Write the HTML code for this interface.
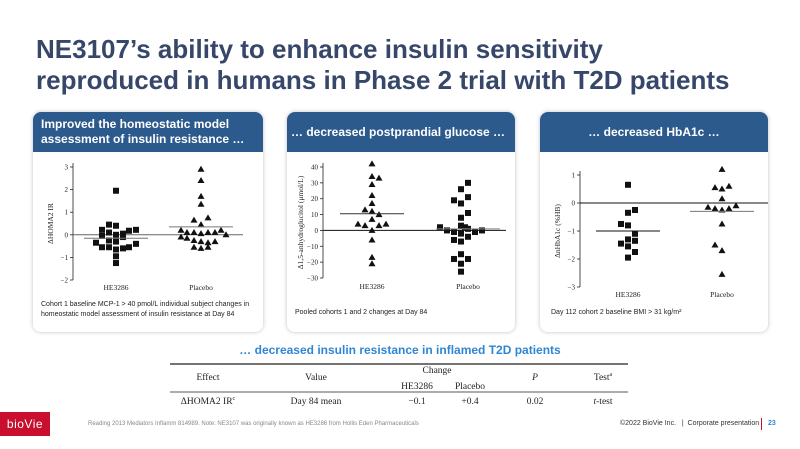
<!DOCTYPE html>
<html><head><meta charset="utf-8">
<style>
body{margin:0;width:800px;height:449px;background:#fff;position:relative;overflow:hidden;font-family:"Liberation Sans",sans-serif;}
.title{position:absolute;left:36px;top:34px;font-size:26px;font-weight:bold;color:#37476a;line-height:31px;white-space:nowrap;}
.card{position:absolute;top:112px;height:220px;background:#fff;border-radius:8px;box-shadow:0 0 4px rgba(0,0,0,0.25);overflow:hidden;}
.hdr{background:#2c5a8c;color:#fff;font-weight:bold;font-size:12px;height:40px;display:flex;align-items:center;padding:0 8px;line-height:15px;white-space:nowrap;}
.hdr.wrap{white-space:normal;}
.cap{position:absolute;font-size:7px;color:#222;line-height:10px;}
svg text{font-family:"Liberation Serif",serif;}
.sub{position:absolute;left:0;width:800px;text-align:center;top:343px;font-size:12px;font-weight:bold;color:#2f86d2;}
.foot{position:absolute;font-size:6px;color:#888;}
</style></head><body>
<div class="title">NE3107’s ability to enhance insulin sensitivity<br>reproduced in humans in Phase 2 trial with T2D patients</div>

<div class="card" style="left:33px;width:230px">
<div class="hdr wrap">Improved the homeostatic model assessment of insulin resistance …</div>
<div class="cap" style="left:8px;top:188px">Cohort 1 baseline MCP-1 &gt; 40 pmol/L individual subject changes in homeostatic model assessment of insulin resistance at Day 84</div>
</div>
<div class="card" style="left:287px;width:228px">
<div class="hdr" style="padding-left:4px">… decreased postprandial glucose …</div>
<div class="cap" style="left:8px;top:196px">Pooled cohorts 1 and 2 changes at Day 84</div>
</div>
<div class="card" style="left:540px;width:228px">
<div class="hdr" style="justify-content:center">… decreased HbA1c …</div>
<div class="cap" style="left:11px;top:196px">Day 112 cohort 2 baseline BMI &gt; 31 kg/m²</div>
</div>

<svg id="charts" width="800" height="449" style="position:absolute;left:0;top:0"></svg>

<div class="sub">… decreased insulin resistance in inflamed T2D patients</div>
<svg width="800" height="449" style="position:absolute;left:0;top:0;pointer-events:none">
<line x1="170" y1="364" x2="628" y2="364" stroke="#222" stroke-width="1.2"/>
<line x1="170" y1="392" x2="628" y2="392" stroke="#222" stroke-width="0.8"/>
<g font-size="9.5" fill="#222" style="font-family:'Liberation Serif',serif">
<text x="208" y="380" text-anchor="middle">Effect</text>
<text x="316" y="380" text-anchor="middle">Value</text>
<text x="437" y="373" text-anchor="middle">Change</text>
<text x="417" y="389" text-anchor="middle">HE3286</text>
<text x="470" y="389" text-anchor="middle">Placebo</text>
<text x="535" y="380" text-anchor="middle" font-style="italic">P</text>
<text x="603" y="380" text-anchor="middle">Test<tspan font-size="6" dy="-4">a</tspan></text>
<text x="208" y="404" text-anchor="middle">ΔHOMA2 IR<tspan font-size="6" dy="-4">c</tspan></text>
<text x="316" y="404" text-anchor="middle">Day 84 mean</text>
<text x="417" y="404" text-anchor="middle">−0.1</text>
<text x="470" y="404" text-anchor="middle">+0.4</text>
<text x="535" y="404" text-anchor="middle">0.02</text>
<text x="603" y="404" text-anchor="middle"><tspan font-style="italic">t</tspan>-test</text>
</g></svg>

<div style="position:absolute;left:0;top:412px;width:50px;height:24px;background:#c8102e;color:#fff;font-size:12px;line-height:24px;text-align:center;letter-spacing:0.5px">bioVie</div>
<div class="foot" style="left:88px;top:421px">Reading 2013 Mediators Inflamm 814989. Note: NE3107 was originally known as HE3286 from Hollis Eden Pharmaceuticals</div>
<div class="foot" style="left:620px;top:420px;font-size:7px;color:#333">©2022 BioVie Inc. &nbsp;&nbsp;|&nbsp; Corporate presentation</div>
<div style="position:absolute;left:761px;top:418px;width:1px;height:12px;background:#c8102e"></div>
<div style="position:absolute;left:768px;top:420px;font-size:7px;font-weight:bold;color:#2f86d2">23</div>

<script>
// Panel 1: ΔHOMA2 IR
const homaTicks=[3,2,1,0,-1,-2];
const homaHE=[1.95,0.45,0.4,0.22,0.18,0.22,0.1,0.05,0,-0.05,-0.1,-0.35,-0.25,-0.3,-0.4,-0.55,-0.55,-0.65,-0.6,-0.55,-0.95,-1.25];
const homaHEJit=[0,-7,0,-14,13,20,-7,7,0,-14,7,-20,-7,0,20,-14,-7,0,7,13,0,0];
const homaPL=[2.9,2.4,1.7,1.35,0.65,0.75,0.45,0.2,0.1,0.1,0.05,0.1,0.1,0.2,0.0,-0.1,-0.15,-0.25,-0.3,-0.35,-0.3,-0.55,-0.6,-0.55];
const homaPLJit=[0,0,0,0,-7,7,0,-20,-14,-7,0,7,14,20,25,-20,-14,-7,0,7,14,-7,0,7];
const homaMeans=[-0.15,0.35];
// Panel 2: Δ1,5-anhydroglucitol
const agTicks=[40,30,20,10,0,-10,-20,-30];
const agHE=[42,34,33,29,22,17,13,12,10,7,4,3,3,4,0,-6,-17,-21];
const agHEJit=[0,0,7,0,0,0,-7,0,7,0,-14,-7,7,14,0,0,0,0];
const agPL=[30,26,21,19,17,11,8,3,2,2,0,-1,-2,-4,-1,0,1,-6,-7,-15,-18,-18,-21,-26];
const agPLJit=[0,-7,0,-14,-7,0,-7,-7,-3,-28,-21,-14,-7,0,7,14,0,-14,-7,-7,0,-14,-7,-7];
const agMeans=[10.5,1];
// Panel 3: ΔnHbA1c
const hbTicks=[1,0,-1,-2,-3];
const hbHE=[0.65,-0.25,-0.35,-0.75,-0.8,-1.1,-1.3,-1.35,-1.45,-1.55,-1.75,-1.95];
const hbHEJit=[0,7,0,-7,0,7,0,7,-7,0,7,0];
const hbPL=[1.2,0.55,0.5,0.6,0.15,-0.15,-0.2,-0.25,-0.2,-0.1,-0.75,-1.5,-1.7,-2.55];
const hbPLJit=[0,-7,0,7,0,-14,-7,0,7,14,0,-7,0,0];
const hbMeans=[-1,-0.3];
const cats=["HE3286","Placebo"];

const NS="http://www.w3.org/2000/svg";
const svg=document.getElementById('charts');
function mk(tag,attrs,parent){const e=document.createElementNS(NS,tag);for(const k in attrs)e.setAttribute(k,attrs[k]);(parent||svg).appendChild(e);return e;}
function marker(g,shape,x,y,name){
  let e;
  if(shape==='sq'){e=mk('rect',{x:x-3,y:y-3,width:6,height:6,fill:'#111'},g);}
  else{e=mk('polygon',{points:`${x},${y-3.5} ${x+3.5},${y+2.5} ${x-3.5},${y+2.5}`,fill:'#111'},g);}
  
  
}
function panel(o){
  const g=mk('g',{});
  
  
  const y=v=>o.y0+(o.vmax-v)/(o.vmax-o.vmin)*(o.y1-o.y0);
  const cx=[o.c1,o.c2];
  mk('line',{x1:o.ax,y1:y(o.vmax)-4,x2:o.ax,y2:y(o.vmin),stroke:'#222','stroke-width':0.8},g);
  o.ticks.forEach(t=>{
    mk('line',{x1:o.ax-3,y1:y(t),x2:o.ax,y2:y(t),stroke:'#222','stroke-width':0.8},g);
    const tx=mk('text',{x:o.ax-5,y:y(t)+2.5,'text-anchor':'end','font-size':7,fill:'#222'},g);tx.textContent=String(t).replace('-','−');
  });
  mk('line',{x1:o.ax,y1:y(0),x2:o.zx,y2:y(0),stroke:o.zc,'stroke-width':1},g);
  cats.forEach((c,i)=>{const t=mk('text',{x:cx[i],y:o.ly,'text-anchor':'middle','font-size':7.5,fill:'#222'},g);t.textContent=c;
    
    });
  const yl=mk('text',{x:0,y:0,'text-anchor':'middle','font-size':7.5,fill:'#222',transform:`translate(${o.ax-20},${(o.y0+o.y1)/2}) rotate(-90)`},g);yl.textContent=o.ylabel;
  
  
  [[o.d1,o.j1,o.s1],[o.d2,o.j2,o.s2]].forEach((s,i)=>{
    s[0].forEach((v,k)=>marker(g,s[2],cx[i]+(s[1][k]||0),y(v),'point-'+cats[i].toLowerCase()));
    const m=mk('line',{x1:cx[i]-32,y1:y(o.means[i]),x2:cx[i]+32,y2:y(o.means[i]),stroke:o.mc[i],'stroke-width':1},g);
    
    
  });
}
panel({name:'homa-chart',ax:73,y0:167,y1:280,vmax:3,vmin:-2,ticks:homaTicks,zx:243,zc:'#666',c1:116,c2:201,ly:290,ylabel:'ΔHOMA2 IR',
  d1:homaHE,j1:homaHEJit,s1:'sq',d2:homaPL,j2:homaPLJit,s2:'tri',means:homaMeans,mc:['#777','#777']});
panel({name:'glucose-chart',ax:323,y0:167,y1:278,vmax:40,vmin:-30,ticks:agTicks,zx:506,zc:'#111',c1:372,c2:468,ly:289,ylabel:'Δ1,5-anhydroglucitol (μmol/L)',
  d1:agHE,j1:agHEJit,s1:'tri',d2:agPL,j2:agPLJit,s2:'sq',means:agMeans,mc:['#333','#888']});
panel({name:'hba1c-chart',ax:580,y0:175,y1:287,vmax:1,vmin:-3,ticks:hbTicks,zx:768,zc:'#111',c1:628,c2:722,ly:297,ylabel:'ΔnHbA1c (%HB)',
  d1:hbHE,j1:hbHEJit,s1:'sq',d2:hbPL,j2:hbPLJit,s2:'tri',means:hbMeans,mc:['#111','#777']});
</script>
</body></html>
